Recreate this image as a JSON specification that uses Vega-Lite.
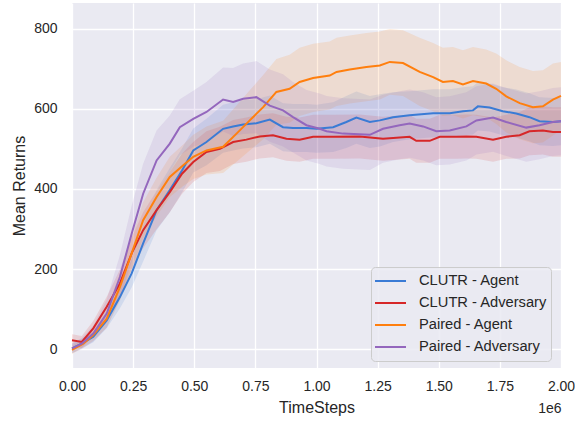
{
  "$schema": "https://vega.github.io/schema/vega-lite/v6.json",
  "width": 489,
  "height": 365,
  "autosize": {"type": "none"},
  "padding": {"left": 72, "top": 3, "right": 14, "bottom": 53},
  "background": "white",
  "config": {
    "view": {"fill": "#EAEAF2", "stroke": null},
    "font": "Liberation Sans",
    "axis": {"labelColor": "#262626", "titleColor": "#262626", "titleFontWeight": "normal", "labelFont": "Liberation Sans", "titleFont": "Liberation Sans"}
  },
  "data": {"values": [
    {"s":"CLUTR - Agent","x":0,"y":2,"lo":-10,"hi":14},
    {"s":"CLUTR - Agent","x":0.04,"y":14,"lo":2,"hi":26},
    {"s":"CLUTR - Agent","x":0.087,"y":31,"lo":17,"hi":45},
    {"s":"CLUTR - Agent","x":0.142,"y":72,"lo":52,"hi":92},
    {"s":"CLUTR - Agent","x":0.196,"y":130,"lo":102,"hi":158},
    {"s":"CLUTR - Agent","x":0.244,"y":189,"lo":154,"hi":224},
    {"s":"CLUTR - Agent","x":0.291,"y":264,"lo":219,"hi":309},
    {"s":"CLUTR - Agent","x":0.346,"y":347,"lo":297,"hi":397},
    {"s":"CLUTR - Agent","x":0.4,"y":397,"lo":342,"hi":452},
    {"s":"CLUTR - Agent","x":0.45,"y":446,"lo":391,"hi":501},
    {"s":"CLUTR - Agent","x":0.496,"y":496,"lo":441,"hi":551},
    {"s":"CLUTR - Agent","x":0.55,"y":517,"lo":459,"hi":575},
    {"s":"CLUTR - Agent","x":0.618,"y":550,"lo":490,"hi":610},
    {"s":"CLUTR - Agent","x":0.659,"y":556,"lo":496,"hi":616},
    {"s":"CLUTR - Agent","x":0.7,"y":561,"lo":501,"hi":621},
    {"s":"CLUTR - Agent","x":0.754,"y":564,"lo":504,"hi":624},
    {"s":"CLUTR - Agent","x":0.809,"y":573,"lo":513,"hi":633},
    {"s":"CLUTR - Agent","x":0.863,"y":554,"lo":494,"hi":614},
    {"s":"CLUTR - Agent","x":0.904,"y":552,"lo":492,"hi":612},
    {"s":"CLUTR - Agent","x":0.959,"y":552,"lo":492,"hi":612},
    {"s":"CLUTR - Agent","x":1.0,"y":550,"lo":490,"hi":610},
    {"s":"CLUTR - Agent","x":1.068,"y":554,"lo":492,"hi":616},
    {"s":"CLUTR - Agent","x":1.122,"y":567,"lo":502,"hi":632},
    {"s":"CLUTR - Agent","x":1.163,"y":578,"lo":513,"hi":643},
    {"s":"CLUTR - Agent","x":1.218,"y":567,"lo":502,"hi":632},
    {"s":"CLUTR - Agent","x":1.259,"y":571,"lo":506,"hi":636},
    {"s":"CLUTR - Agent","x":1.313,"y":579,"lo":517,"hi":641},
    {"s":"CLUTR - Agent","x":1.381,"y":584,"lo":524,"hi":644},
    {"s":"CLUTR - Agent","x":1.477,"y":589,"lo":529,"hi":649},
    {"s":"CLUTR - Agent","x":1.545,"y":589,"lo":529,"hi":649},
    {"s":"CLUTR - Agent","x":1.599,"y":594,"lo":534,"hi":654},
    {"s":"CLUTR - Agent","x":1.64,"y":596,"lo":536,"hi":656},
    {"s":"CLUTR - Agent","x":1.66,"y":606,"lo":546,"hi":666},
    {"s":"CLUTR - Agent","x":1.708,"y":603,"lo":543,"hi":663},
    {"s":"CLUTR - Agent","x":1.762,"y":594,"lo":534,"hi":654},
    {"s":"CLUTR - Agent","x":1.817,"y":588,"lo":528,"hi":648},
    {"s":"CLUTR - Agent","x":1.871,"y":579,"lo":519,"hi":639},
    {"s":"CLUTR - Agent","x":1.912,"y":569,"lo":509,"hi":629},
    {"s":"CLUTR - Agent","x":1.967,"y":567,"lo":507,"hi":627},
    {"s":"CLUTR - Agent","x":2.0,"y":569,"lo":509,"hi":629},

    {"s":"CLUTR - Adversary","x":0,"y":22,"lo":7,"hi":37},
    {"s":"CLUTR - Adversary","x":0.04,"y":18,"lo":3,"hi":33},
    {"s":"CLUTR - Adversary","x":0.087,"y":52,"lo":34,"hi":70},
    {"s":"CLUTR - Adversary","x":0.142,"y":106,"lo":81,"hi":131},
    {"s":"CLUTR - Adversary","x":0.196,"y":164,"lo":129,"hi":199},
    {"s":"CLUTR - Adversary","x":0.244,"y":239,"lo":199,"hi":279},
    {"s":"CLUTR - Adversary","x":0.291,"y":297,"lo":252,"hi":342},
    {"s":"CLUTR - Adversary","x":0.346,"y":347,"lo":299,"hi":395},
    {"s":"CLUTR - Adversary","x":0.4,"y":392,"lo":342,"hi":442},
    {"s":"CLUTR - Adversary","x":0.45,"y":438,"lo":388,"hi":488},
    {"s":"CLUTR - Adversary","x":0.496,"y":467,"lo":417,"hi":517},
    {"s":"CLUTR - Adversary","x":0.55,"y":492,"lo":440,"hi":544},
    {"s":"CLUTR - Adversary","x":0.605,"y":500,"lo":445,"hi":555},
    {"s":"CLUTR - Adversary","x":0.659,"y":517,"lo":462,"hi":572},
    {"s":"CLUTR - Adversary","x":0.713,"y":523,"lo":468,"hi":578},
    {"s":"CLUTR - Adversary","x":0.768,"y":531,"lo":476,"hi":586},
    {"s":"CLUTR - Adversary","x":0.822,"y":534,"lo":479,"hi":589},
    {"s":"CLUTR - Adversary","x":0.877,"y":525,"lo":470,"hi":580},
    {"s":"CLUTR - Adversary","x":0.931,"y":523,"lo":468,"hi":578},
    {"s":"CLUTR - Adversary","x":0.986,"y":530,"lo":475,"hi":585},
    {"s":"CLUTR - Adversary","x":1.068,"y":530,"lo":475,"hi":585},
    {"s":"CLUTR - Adversary","x":1.177,"y":531,"lo":476,"hi":586},
    {"s":"CLUTR - Adversary","x":1.272,"y":525,"lo":470,"hi":580},
    {"s":"CLUTR - Adversary","x":1.381,"y":530,"lo":475,"hi":585},
    {"s":"CLUTR - Adversary","x":1.408,"y":520,"lo":465,"hi":575},
    {"s":"CLUTR - Adversary","x":1.463,"y":520,"lo":465,"hi":575},
    {"s":"CLUTR - Adversary","x":1.504,"y":530,"lo":475,"hi":585},
    {"s":"CLUTR - Adversary","x":1.572,"y":530,"lo":475,"hi":585},
    {"s":"CLUTR - Adversary","x":1.613,"y":531,"lo":476,"hi":586},
    {"s":"CLUTR - Adversary","x":1.654,"y":530,"lo":475,"hi":585},
    {"s":"CLUTR - Adversary","x":1.722,"y":523,"lo":468,"hi":578},
    {"s":"CLUTR - Adversary","x":1.776,"y":530,"lo":475,"hi":585},
    {"s":"CLUTR - Adversary","x":1.831,"y":534,"lo":476,"hi":592},
    {"s":"CLUTR - Adversary","x":1.871,"y":544,"lo":484,"hi":604},
    {"s":"CLUTR - Adversary","x":1.926,"y":546,"lo":486,"hi":606},
    {"s":"CLUTR - Adversary","x":1.967,"y":542,"lo":480,"hi":604},
    {"s":"CLUTR - Adversary","x":2.0,"y":542,"lo":480,"hi":604},

    {"s":"Paired - Agent","x":0,"y":-2,"lo":-12,"hi":8},
    {"s":"Paired - Agent","x":0.046,"y":14,"lo":4,"hi":24},
    {"s":"Paired - Agent","x":0.087,"y":35,"lo":21,"hi":49},
    {"s":"Paired - Agent","x":0.142,"y":76,"lo":54,"hi":98},
    {"s":"Paired - Agent","x":0.196,"y":155,"lo":120,"hi":190},
    {"s":"Paired - Agent","x":0.244,"y":239,"lo":199,"hi":279},
    {"s":"Paired - Agent","x":0.291,"y":322,"lo":277,"hi":367},
    {"s":"Paired - Agent","x":0.346,"y":380,"lo":332,"hi":428},
    {"s":"Paired - Agent","x":0.4,"y":430,"lo":380,"hi":480},
    {"s":"Paired - Agent","x":0.455,"y":459,"lo":407,"hi":511},
    {"s":"Paired - Agent","x":0.496,"y":480,"lo":425,"hi":535},
    {"s":"Paired - Agent","x":0.55,"y":496,"lo":436,"hi":556},
    {"s":"Paired - Agent","x":0.618,"y":505,"lo":440,"hi":570},
    {"s":"Paired - Agent","x":0.673,"y":538,"lo":468,"hi":608},
    {"s":"Paired - Agent","x":0.727,"y":571,"lo":496,"hi":646},
    {"s":"Paired - Agent","x":0.782,"y":604,"lo":524,"hi":684},
    {"s":"Paired - Agent","x":0.836,"y":642,"lo":560,"hi":724},
    {"s":"Paired - Agent","x":0.89,"y":650,"lo":565,"hi":735},
    {"s":"Paired - Agent","x":0.931,"y":667,"lo":582,"hi":752},
    {"s":"Paired - Agent","x":0.986,"y":677,"lo":592,"hi":762},
    {"s":"Paired - Agent","x":1.054,"y":683,"lo":598,"hi":768},
    {"s":"Paired - Agent","x":1.082,"y":692,"lo":607,"hi":777},
    {"s":"Paired - Agent","x":1.136,"y":698,"lo":613,"hi":783},
    {"s":"Paired - Agent","x":1.204,"y":704,"lo":619,"hi":789},
    {"s":"Paired - Agent","x":1.259,"y":708,"lo":623,"hi":793},
    {"s":"Paired - Agent","x":1.3,"y":717,"lo":635,"hi":799},
    {"s":"Paired - Agent","x":1.354,"y":714,"lo":632,"hi":796},
    {"s":"Paired - Agent","x":1.422,"y":692,"lo":607,"hi":777},
    {"s":"Paired - Agent","x":1.477,"y":679,"lo":594,"hi":764},
    {"s":"Paired - Agent","x":1.517,"y":667,"lo":582,"hi":752},
    {"s":"Paired - Agent","x":1.558,"y":669,"lo":584,"hi":754},
    {"s":"Paired - Agent","x":1.599,"y":661,"lo":576,"hi":746},
    {"s":"Paired - Agent","x":1.64,"y":669,"lo":584,"hi":754},
    {"s":"Paired - Agent","x":1.694,"y":663,"lo":578,"hi":748},
    {"s":"Paired - Agent","x":1.735,"y":650,"lo":562,"hi":738},
    {"s":"Paired - Agent","x":1.776,"y":631,"lo":541,"hi":721},
    {"s":"Paired - Agent","x":1.831,"y":614,"lo":524,"hi":704},
    {"s":"Paired - Agent","x":1.885,"y":604,"lo":514,"hi":694},
    {"s":"Paired - Agent","x":1.926,"y":606,"lo":516,"hi":696},
    {"s":"Paired - Agent","x":1.967,"y":623,"lo":533,"hi":713},
    {"s":"Paired - Agent","x":2.0,"y":632,"lo":547,"hi":717},

    {"s":"Paired - Adversary","x":0,"y":2,"lo":-10,"hi":14},
    {"s":"Paired - Adversary","x":0.04,"y":14,"lo":0,"hi":28},
    {"s":"Paired - Adversary","x":0.087,"y":39,"lo":19,"hi":59},
    {"s":"Paired - Adversary","x":0.142,"y":89,"lo":54,"hi":124},
    {"s":"Paired - Adversary","x":0.196,"y":180,"lo":125,"hi":235},
    {"s":"Paired - Adversary","x":0.244,"y":288,"lo":218,"hi":358},
    {"s":"Paired - Adversary","x":0.291,"y":388,"lo":313,"hi":463},
    {"s":"Paired - Adversary","x":0.346,"y":471,"lo":396,"hi":546},
    {"s":"Paired - Adversary","x":0.4,"y":513,"lo":443,"hi":583},
    {"s":"Paired - Adversary","x":0.441,"y":554,"lo":484,"hi":624},
    {"s":"Paired - Adversary","x":0.496,"y":575,"lo":505,"hi":645},
    {"s":"Paired - Adversary","x":0.55,"y":592,"lo":517,"hi":667},
    {"s":"Paired - Adversary","x":0.618,"y":623,"lo":543,"hi":703},
    {"s":"Paired - Adversary","x":0.659,"y":617,"lo":532,"hi":702},
    {"s":"Paired - Adversary","x":0.7,"y":625,"lo":537,"hi":713},
    {"s":"Paired - Adversary","x":0.754,"y":629,"lo":539,"hi":719},
    {"s":"Paired - Adversary","x":0.809,"y":608,"lo":518,"hi":698},
    {"s":"Paired - Adversary","x":0.863,"y":596,"lo":506,"hi":686},
    {"s":"Paired - Adversary","x":0.904,"y":579,"lo":491,"hi":667},
    {"s":"Paired - Adversary","x":0.959,"y":559,"lo":471,"hi":647},
    {"s":"Paired - Adversary","x":1.013,"y":550,"lo":462,"hi":638},
    {"s":"Paired - Adversary","x":1.041,"y":544,"lo":456,"hi":632},
    {"s":"Paired - Adversary","x":1.109,"y":538,"lo":450,"hi":626},
    {"s":"Paired - Adversary","x":1.218,"y":535,"lo":447,"hi":623},
    {"s":"Paired - Adversary","x":1.272,"y":550,"lo":465,"hi":635},
    {"s":"Paired - Adversary","x":1.34,"y":559,"lo":474,"hi":644},
    {"s":"Paired - Adversary","x":1.381,"y":563,"lo":478,"hi":648},
    {"s":"Paired - Adversary","x":1.436,"y":556,"lo":471,"hi":641},
    {"s":"Paired - Adversary","x":1.49,"y":544,"lo":459,"hi":629},
    {"s":"Paired - Adversary","x":1.545,"y":546,"lo":461,"hi":631},
    {"s":"Paired - Adversary","x":1.613,"y":556,"lo":471,"hi":641},
    {"s":"Paired - Adversary","x":1.654,"y":571,"lo":486,"hi":656},
    {"s":"Paired - Adversary","x":1.722,"y":578,"lo":493,"hi":663},
    {"s":"Paired - Adversary","x":1.776,"y":567,"lo":482,"hi":652},
    {"s":"Paired - Adversary","x":1.858,"y":553,"lo":468,"hi":638},
    {"s":"Paired - Adversary","x":1.912,"y":559,"lo":474,"hi":644},
    {"s":"Paired - Adversary","x":1.967,"y":567,"lo":482,"hi":652},
    {"s":"Paired - Adversary","x":2.0,"y":569,"lo":484,"hi":654}
  ]},
  "resolve": {"axis": {"x": "independent"}, "scale": {"color": "independent"}},
  "layer": [
    {
      "mark": {"type": "area", "opacity": 0.14},
      "encoding": {
        "x": {"field": "x", "type": "quantitative", "scale": {"domain": [0, 2], "nice": false, "zero": false},
              "axis": {"orient": "bottom", "title": "1e6", "labels": false, "ticks": false, "domain": false, "grid": false,
                       "titleAnchor": "end", "titleAlign": "right", "titleY": 44, "titleBaseline": "alphabetic", "titleFontSize": 14}},
        "y": {"field": "lo", "type": "quantitative", "scale": {"domain": [-47, 864], "nice": false, "zero": false}},
        "y2": {"field": "hi"},
        "color": {"field": "s", "type": "nominal",
                  "scale": {"domain": ["CLUTR - Agent", "CLUTR - Adversary", "Paired - Agent", "Paired - Adversary"],
                            "range": ["#3A7BD5", "#D62728", "#FF7F0E", "#9467BD"]},
                  "legend": null}
      }
    },
    {
      "mark": {"type": "line", "strokeWidth": 2},
      "encoding": {
        "x": {"field": "x", "type": "quantitative",
              "axis": {"orient": "bottom", "title": "TimeSteps", "values": [0, 0.25, 0.5, 0.75, 1, 1.25, 1.5, 1.75, 2], "format": ".2f",
                       "labelFontSize": 14, "titleFontSize": 16, "labelPadding": 11, "ticks": false, "domain": false,
                       "grid": true, "gridColor": "white", "gridWidth": 1.3, "labelFlush": false,
                       "titleY": 44, "titleBaseline": "alphabetic"}},
        "y": {"field": "y", "type": "quantitative",
              "axis": {"title": "Mean Returns", "values": [0, 200, 400, 600, 800], "labelFontSize": 14, "titleFontSize": 16,
                       "labelPadding": 15, "ticks": false, "domain": false, "grid": true, "gridColor": "white", "gridWidth": 1.3,
                       "titleX": -48, "titleBaseline": "alphabetic"}},
        "color": {"field": "s", "type": "nominal",
                  "scale": {"domain": ["CLUTR - Agent", "CLUTR - Adversary", "Paired - Agent", "Paired - Adversary"],
                            "range": ["#3A7BD5", "#D62728", "#FF7F0E", "#9467BD"]},
                  "legend": {"title": null, "orient": "none", "legendX": 299, "legendY": 264,
                             "symbolType": "stroke", "symbolSize": 961, "symbolStrokeWidth": 2, "symbolOpacity": 1,
                             "labelFontSize": 14.7, "labelColor": "#262626", "labelFont": "Liberation Sans", "labelOffset": 12,
                             "fillColor": "rgba(234,234,242,0.85)", "strokeColor": "#CCCCCC", "cornerRadius": 4,
                             "padding": 3, "clipHeight": 22, "rowPadding": 0}}
      }
    }
  ]
}
